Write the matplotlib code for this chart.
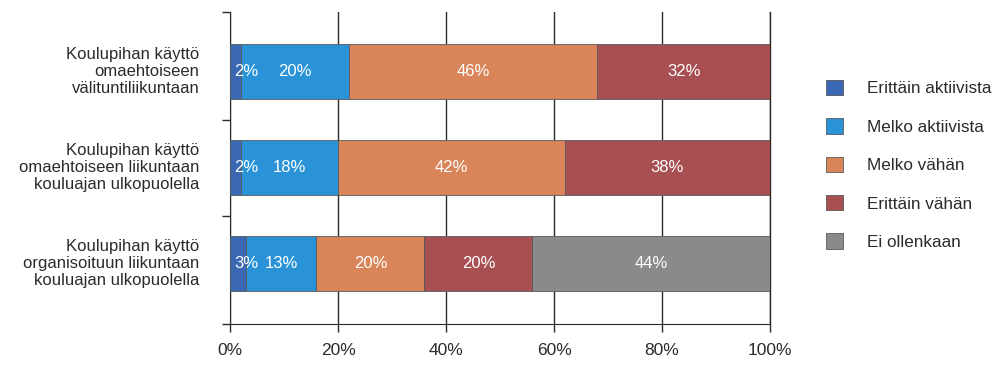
import matplotlib.pyplot as plt
import numpy as np
from matplotlib.patches import Patch

plt.rcParams['font.family'] = ['Liberation Sans', 'DejaVu Sans']

categories = [
    "Koulupihan käyttö\nomaehtoiseen\nvälituntiliikuntaan",
    "Koulupihan käyttö\nomaehtoiseen liikuntaan\nkouluajan ulkopuolella",
    "Koulupihan käyttö\norganisoituun liikuntaan\nkouluajan ulkopuolella",
]
series_names = ["Erittäin aktiivista", "Melko aktiivista", "Melko vähän",
                "Erittäin vähän", "Ei ollenkaan"]
erittain_aktiivista = [2, 2, 3]
melko_aktiivista = [20, 18, 13]
melko_vahan = [46, 42, 20]
erittain_vahan = [32, 38, 20]
ei_ollenkaan = [0, 0, 44]
colors = ["#3b68b2", "#2a93d8", "#d98459", "#a84f52", "#8a8a8a"]
xticks = [0, 20, 40, 60, 80, 100]

series = [erittain_aktiivista, melko_aktiivista, melko_vahan, erittain_vahan, ei_ollenkaan]

fig = plt.figure(figsize=(10.02, 3.69), dpi=100)
ax = fig.add_axes([230 / 1002, 45 / 369, 540 / 1002, 312 / 369])

y = np.arange(len(categories))
left = np.zeros(len(categories))
for name, vals, col in zip(series_names, series, colors):
    vals = np.array(vals, dtype=float)
    ax.barh(y, vals, left=left, height=0.57, color=col, edgecolor="#5a5a5a",
            linewidth=0.6, zorder=3, label=name)
    for i, v in enumerate(vals):
        if v <= 0:
            continue
        if v < 5:
            ax.text(left[i] + 0.8, y[i], f"{int(v)}%", ha="left", va="center",
                    color="white", fontsize=12, zorder=4)
        else:
            ax.text(left[i] + v / 2, y[i], f"{int(v)}%", ha="center", va="center",
                    color="white", fontsize=12, zorder=4)
    left += vals

ax.set_xlim(0, 100)
ylo, yhi = len(categories) - 1 + 0.63, -0.62
ax.set_ylim(ylo, yhi)
ax.set_xticks(xticks)
ax.set_xticklabels([f"{t}%" for t in xticks], fontsize=12.5, color="#2b2b2b")
ax.xaxis.grid(True, color="#2b2b2b", linewidth=1.0, zorder=1)
ax.set_axisbelow(True)
# right-most gridline would be half clipped otherwise
ax.axvline(xticks[-1], color="#2b2b2b", linewidth=1.0, zorder=2, clip_on=False)

# category labels as text, y ticks on the boundaries
ax.set_yticks([yhi] + list(np.arange(0.5, len(categories) - 1, 1.0)) + [ylo])
ax.set_yticklabels([])
for i, c in enumerate(categories):
    ax.annotate(c, xy=(0, y[i]), xytext=(-22, 0), textcoords="offset points",
                ha="right", va="center", fontsize=12, color="#2b2b2b",
                linespacing=1.15)

ax.tick_params(axis="y", length=6, width=1, color="#2b2b2b")
ax.tick_params(axis="x", length=6, width=1, color="#2b2b2b", pad=8)
for s in ["top", "right"]:
    ax.spines[s].set_visible(False)
ax.spines["left"].set_color("#2b2b2b")
ax.spines["bottom"].set_color("#2b2b2b")

handles = [Patch(facecolor=c, edgecolor="#5a5a5a", linewidth=0.6) for c in colors]
fig.legend(handles, series_names, loc="upper left",
           bbox_to_anchor=(826 / 1002, 1 - 80 / 369), frameon=False,
           fontsize=12.3, handlelength=1.0, handleheight=1.0,
           labelspacing=1.28, handletextpad=1.4, borderpad=0, borderaxespad=0,
           labelcolor="#2b2b2b")

fig.savefig("out.png", dpi=100, facecolor="white")
